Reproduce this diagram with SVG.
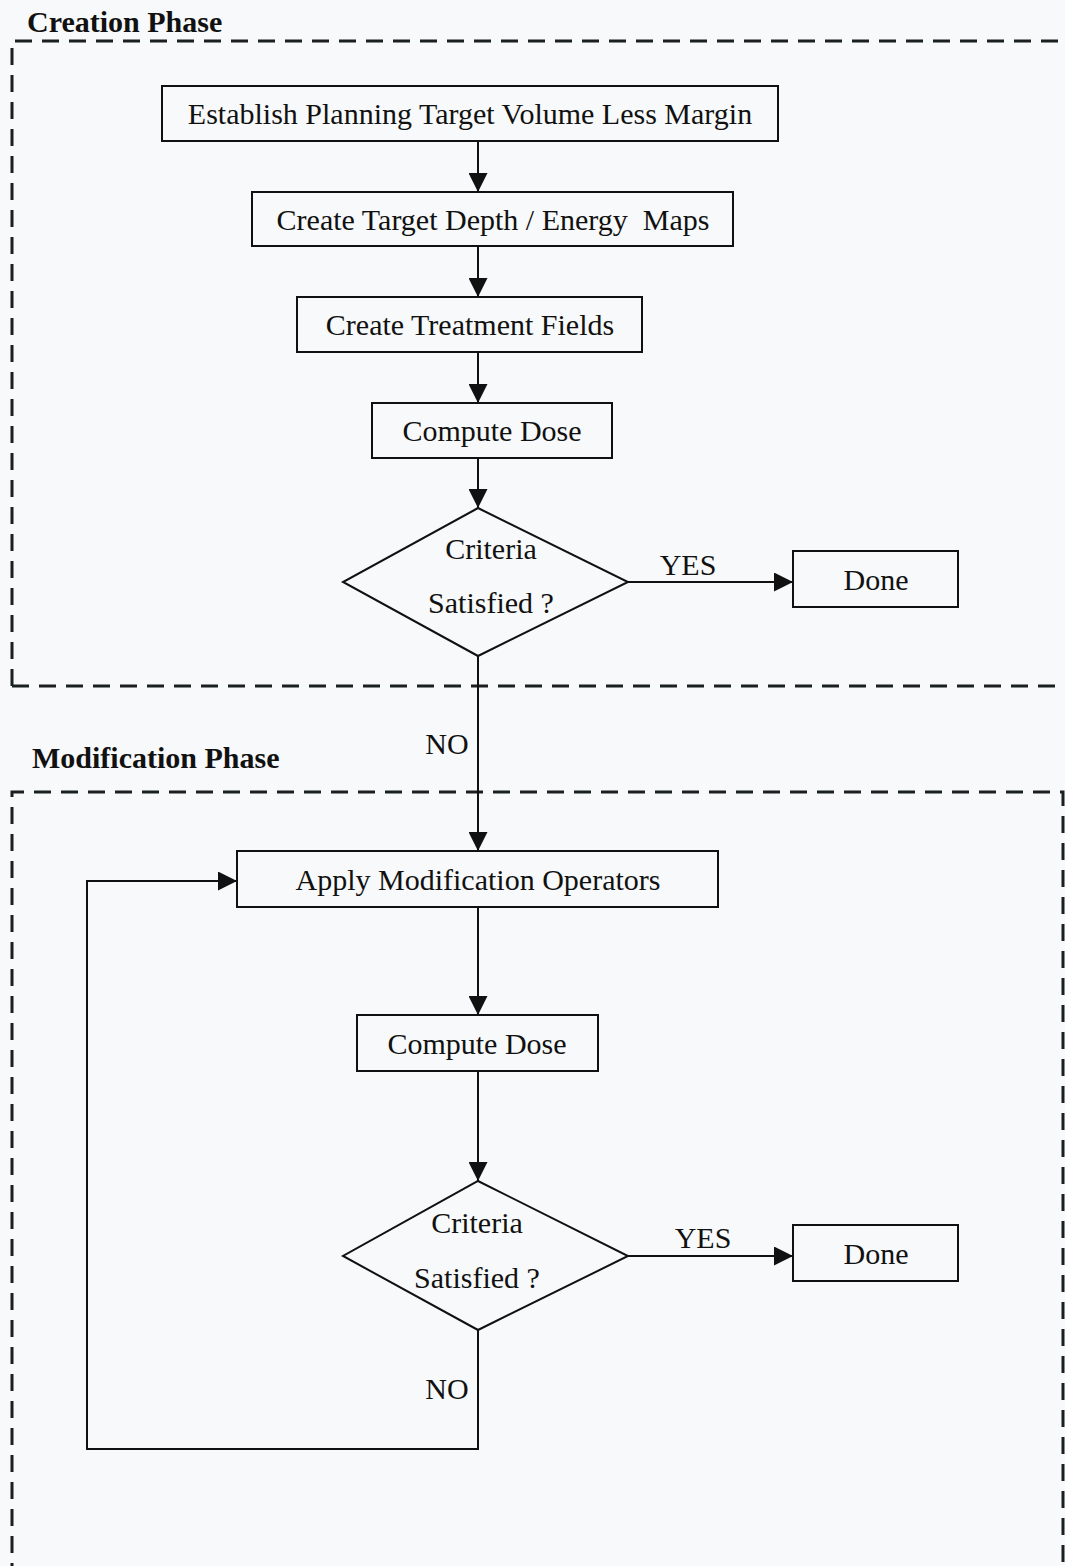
<svg xmlns="http://www.w3.org/2000/svg" width="1065" height="1566" viewBox="0 0 1065 1566">
<style>
.bg{fill:#f7f9fa}
.box{fill:none;stroke:#111;stroke-width:2}
.frame{fill:none;stroke:#1a1f1f;stroke-width:3;stroke-dasharray:17 10}
.t{font-family:"Liberation Serif","Times New Roman",serif;font-size:30px;fill:#111;text-anchor:middle}
.h{font-family:"Liberation Serif","Times New Roman",serif;font-size:30px;font-weight:bold;fill:#111}
.c{fill:none;stroke:#111;stroke-width:2}
</style>
<defs>
<marker id="ah" viewBox="0 0 10 10" refX="10" refY="5" markerWidth="19" markerHeight="19" markerUnits="userSpaceOnUse" orient="auto">
<path d="M0,0 L10,5 L0,10 z" fill="#111"/>
</marker>
</defs>
<rect class="bg" x="0" y="0" width="1065" height="1566"/>
<g id="creation-phase">
<text class="h" x="27" y="32">Creation Phase</text>
<path class="frame" d="M12,686 V41 H1070 M12,686 H1070"/>
</g>
<g id="modification-phase">
<text class="h" x="32" y="768">Modification Phase</text>
<path class="frame" d="M12,1580 V792 H1063 V1580"/>
</g>
<g id="n1"><rect class="box" x="162" y="86" width="616" height="55"/><text class="t" x="470" y="124">Establish Planning Target Volume Less Margin</text></g>
<g id="n2"><rect class="box" x="252" y="192" width="481" height="54"/><text class="t" x="493" y="230" xml:space="preserve">Create Target Depth / Energy  Maps</text></g>
<g id="n3"><rect class="box" x="297" y="297" width="345" height="55"/><text class="t" x="470" y="335">Create Treatment Fields</text></g>
<g id="n4"><rect class="box" x="372" y="403" width="240" height="55"/><text class="t" x="492" y="441">Compute Dose</text></g>
<g id="d1"><polygon class="box" points="478,508 628,582 478,656 343,582"/><text class="t" x="491" y="559">Criteria</text><text class="t" x="491" y="613">Satisfied ?</text></g>
<g id="done1"><rect class="box" x="793" y="551" width="165" height="56"/><text class="t" x="876" y="590">Done</text></g>
<g id="n5"><rect class="box" x="237" y="851" width="481" height="56"/><text class="t" x="478" y="890">Apply Modification Operators</text></g>
<g id="n6"><rect class="box" x="357" y="1015" width="241" height="56"/><text class="t" x="477" y="1054">Compute Dose</text></g>
<g id="d2"><polygon class="box" points="478,1181 628,1256 478,1330 343,1256"/><text class="t" x="477" y="1233">Criteria</text><text class="t" x="477" y="1288">Satisfied ?</text></g>
<g id="done2"><rect class="box" x="793" y="1225" width="165" height="56"/><text class="t" x="876" y="1264">Done</text></g>
<g id="connectors">
<line class="c" x1="478" y1="141" x2="478" y2="192" marker-end="url(#ah)"/>
<line class="c" x1="478" y1="246" x2="478" y2="297" marker-end="url(#ah)"/>
<line class="c" x1="478" y1="352" x2="478" y2="403" marker-end="url(#ah)"/>
<line class="c" x1="478" y1="458" x2="478" y2="508" marker-end="url(#ah)"/>
<line class="c" x1="628" y1="582" x2="793" y2="582" marker-end="url(#ah)"/>
<text class="t" x="688" y="575">YES</text>
<line class="c" x1="478" y1="656" x2="478" y2="851" marker-end="url(#ah)"/>
<text class="t" x="447" y="754">NO</text>
<line class="c" x1="478" y1="907" x2="478" y2="1015" marker-end="url(#ah)"/>
<line class="c" x1="478" y1="1071" x2="478" y2="1181" marker-end="url(#ah)"/>
<line class="c" x1="628" y1="1256" x2="793" y2="1256" marker-end="url(#ah)"/>
<text class="t" x="703" y="1248">YES</text>
<polyline class="c" points="478,1330 478,1449 87,1449 87,881 237,881" marker-end="url(#ah)"/>
<text class="t" x="447" y="1399">NO</text>
</g>
</svg>
